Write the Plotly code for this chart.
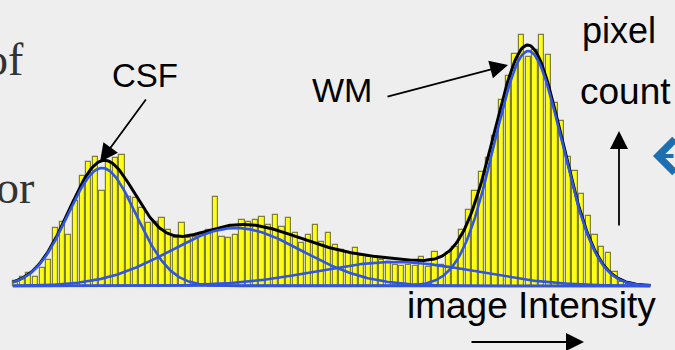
import numpy as np
import plotly.graph_objects as go

# Histogram of image intensities (pixel counts per intensity bin)
bin_index = list(range(96))
pixel_counts = [
    5, 9, 13, 9, 18, 26, 58, 64, 51, 85,
    110, 124, 129, 95, 124, 128, 131, 89, 88, 78,
    63, 64, 68, 56, 48, 63, 48, 49, 53, 56,
    89, 49, 48, 51, 66, 64, 66, 69, 61, 71,
    59, 68, 53, 43, 51, 61, 44, 53, 41, 36,
    33, 38, 30, 29, 28, 26, 24, 21, 20, 21,
    20, 29, 19, 34, 21, 33, 39, 56, 76, 95,
    114, 128, 150, 186, 210, 232, 251, 229, 236, 251,
    231, 183, 165, 129, 115, 92, 70, 51, 39, 33,
    14, 4, 3, 1, 1, 1,
]

# Gaussian mixture components fitted to the histogram (in bin units)
component_names = ["CSF", "GM", "partial volume", "WM"]
component_means = [13.0, 33.1, 57.0, 77.0]
component_sigmas = [5.1, 9.9, 12.0, 5.1]
component_peaks = [118, 58, 24, 235]

# Text labels
label_csf = "CSF"
label_wm = "WM"
label_count = ["pixel", "count"]
label_intensity = "image Intensity"

W, H = 675, 350
BLUE = "#2f55e6"

xs = np.linspace(-0.4, 95.3, 500)
comps = [
    p * np.exp(-0.5 * ((xs - m) / s) ** 2)
    for m, s, p in zip(component_means, component_sigmas, component_peaks)
]
total = np.sum(comps, axis=0)

fig = go.Figure()
fig.add_trace(go.Bar(
    x=bin_index, y=pixel_counts, width=0.78,
    marker=dict(color="#ffff14", line=dict(color="rgba(105,105,45,0.85)", width=1.2)),
    hoverinfo="skip",
))
fig.add_trace(go.Scatter(x=xs, y=total, mode="lines",
                         line=dict(color="black", width=3), hoverinfo="skip"))
for name, c in zip(component_names, comps):
    fig.add_trace(go.Scatter(x=xs, y=c, mode="lines", name=name,
                             line=dict(color=BLUE, width=2.6), hoverinfo="skip"))


def px(x):
    return x / W


def py(y):
    return 1 - y / H


sans = dict(family="Liberation Sans, Arial, sans-serif", color="black")
serif = dict(family="Liberation Serif, Times New Roman, serif", size=46, color="#333333")


def label(x, y, text, font, xanchor="center"):
    return dict(x=px(x), y=py(y), xref="paper", yref="paper", text=text,
                showarrow=False, xanchor=xanchor, yanchor="middle", font=font)


ann = []
# slide text running off the left edge
ann.append(label(26, 59, "of", serif, xanchor="right"))
ann.append(label(36, 187, "or", serif, xanchor="right"))
# labels
ann.append(label(145, 76, label_csf, dict(size=33, **sans)))
ann.append(label(342, 90, label_wm, dict(size=34, **sans)))
ann.append(label(619, 31, label_count[0], dict(size=36, **sans)))
ann.append(label(625, 91, label_count[1], dict(size=37, **sans)))
ann.append(label(531, 305, label_intensity, dict(size=37, **sans)))


def arrow(tip, tail, color="black", width=1.8, head=2, size=2.0):
    return dict(x=px(tip[0]), y=py(tip[1]), xref="paper", yref="paper", text="",
                showarrow=True, arrowhead=head, arrowsize=size, arrowwidth=width,
                arrowcolor=color, ax=tail[0] - tip[0], ay=tail[1] - tip[1],
                axref="pixel", ayref="pixel", standoff=0, startstandoff=0)


ann.append(arrow((100, 162), (147, 98)))
ann.append(arrow((508, 65), (386, 97)))
ann.append(arrow((619, 131), (619, 227)))
ann.append(arrow((584, 342), (470, 342)))
ann.append(arrow((653, 156), (720, 156), color="#1d6fb0", width=4, head=4, size=1.6))

fig.update_layout(
    width=W, height=H,
    margin=dict(l=0, r=0, t=0, b=0),
    paper_bgcolor="#eeeeee", plot_bgcolor="rgba(0,0,0,0)",
    showlegend=False, bargap=0,
    xaxis=dict(range=[-15.5 / 6.66, (W - 15.5) / 6.66], visible=False, fixedrange=True),
    yaxis=dict(range=[-(H - 286), 286], visible=False, fixedrange=True),
    annotations=ann,
)

fig.write_html("out.html")
